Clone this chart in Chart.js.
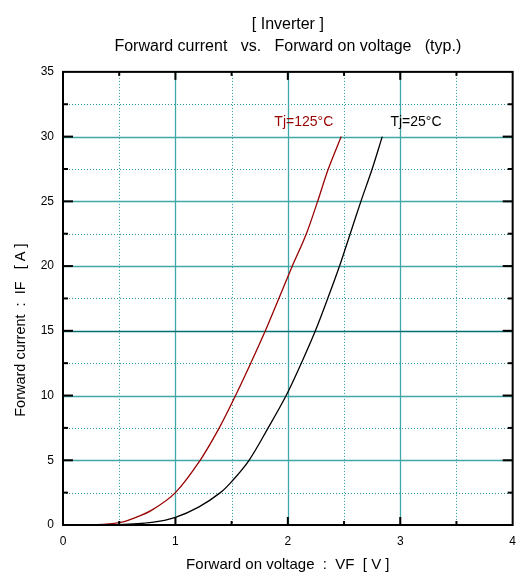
<!DOCTYPE html>
<html>
<head>
<meta charset="utf-8">
<script src="https://cdn.jsdelivr.net/npm/chart.js@4/dist/chart.umd.min.js"></script>
<style>
  html, body { margin: 0; padding: 0; background: #fff; }
  #wrap { width: 525px; height: 585px; }
</style>
</head>
<body>
<div id="wrap"><canvas id="ifChart" width="525" height="585"></canvas></div>
<script>
// Forward on voltage (V) / forward current (A)
const vf125 = [0, 0.3, 0.5, 0.62, 0.79, 1.0, 1.22, 1.39, 1.535, 1.67, 1.80, 1.92, 2.04, 2.165, 2.265, 2.36, 2.475];
const if125 = [0, 0.02, 0.18, 0.5, 1.15, 2.5, 5, 7.5, 10, 12.5, 15, 17.5, 20, 22.5, 25, 27.5, 30];
const vf25 = [0, 0.5, 0.79, 1.0, 1.21, 1.40, 1.50, 1.655, 1.825, 1.985, 2.12, 2.245, 2.355, 2.46, 2.555, 2.65, 2.75, 2.84];
const if25 = [0, 0.03, 0.2, 0.59, 1.4, 2.5, 3.35, 5, 7.5, 10, 12.5, 15, 17.5, 20, 22.5, 25, 27.5, 30];

const xTicks = [0, 1, 2, 3, 4];
const yTicks = [0, 5, 10, 15, 20, 25, 30, 35];
const curveLabels = ["Tj=125°C", "Tj=25°C"];
const yTitle = "Forward current  :  IF   [ A ]";

const toPoints = (xs, ys) => xs.map((x, i) => ({ x: x, y: ys[i] }));

const font = "Liberation Sans, Arial, sans-serif";

// grid, frame with inward ticks, curve labels and the y title
const framePlugin = {
  id: "frame",
  beforeDatasetsDraw(chart) {
    const { ctx, chartArea: a, scales: { x, y } } = chart;
    ctx.save();
    // minor dotted grid
    ctx.setLineDash([1, 2]);
    ctx.lineWidth = 1;
    ctx.strokeStyle = "#2a9898";
    for (let v = 0.5; v < 4; v += 1) {
      const px = Math.round(x.getPixelForValue(v)) + 0.5;
      ctx.beginPath(); ctx.moveTo(px, a.top); ctx.lineTo(px, a.bottom); ctx.stroke();
    }
    for (let v = 2.5; v < 35; v += 5) {
      const py = Math.round(y.getPixelForValue(v)) + 0.5;
      ctx.beginPath(); ctx.moveTo(a.left, py); ctx.lineTo(a.right, py); ctx.stroke();
    }
    // major solid grid
    ctx.setLineDash([]);
    ctx.lineWidth = 1.3;
    for (let v = 1; v < 4; v++) {
      const px = Math.round(x.getPixelForValue(v)) + 0.5;
      ctx.strokeStyle = "#40a8a8";
      ctx.beginPath(); ctx.moveTo(px, a.top); ctx.lineTo(px, a.bottom); ctx.stroke();
    }
    for (let v = 5; v < 35; v += 5) {
      const py = Math.round(y.getPixelForValue(v)) + 0.5;
      ctx.strokeStyle = v === 15 ? "#007070" : "#40a8a8";
      ctx.beginPath(); ctx.moveTo(a.left, py); ctx.lineTo(a.right, py); ctx.stroke();
    }
    ctx.restore();
  },
  afterDatasetsDraw(chart) {
    const { ctx, chartArea: a, scales: { x, y } } = chart;
    ctx.save();
    ctx.strokeStyle = "#000";
    ctx.lineWidth = 2;
    ctx.strokeRect(a.left, a.top, a.right - a.left, a.bottom - a.top);
    for (let v = 0.5; v < 4; v += 0.5) {
      const px = x.getPixelForValue(v);
      const len = Number.isInteger(v) ? 8 : 4;
      ctx.beginPath(); ctx.moveTo(px, a.bottom); ctx.lineTo(px, a.bottom - len); ctx.stroke();
      ctx.beginPath(); ctx.moveTo(px, a.top); ctx.lineTo(px, a.top + len); ctx.stroke();
    }
    for (let v = 2.5; v < 35; v += 2.5) {
      const py = y.getPixelForValue(v);
      const len = v % 5 === 0 ? 10 : 5;
      ctx.beginPath(); ctx.moveTo(a.left, py); ctx.lineTo(a.left + len, py); ctx.stroke();
      ctx.beginPath(); ctx.moveTo(a.right, py); ctx.lineTo(a.right - len, py); ctx.stroke();
    }
    // curve labels
    ctx.font = "14px " + font;
    ctx.textAlign = "center";
    ctx.textBaseline = "middle";
    ctx.fillStyle = "#990000";
    ctx.fillText(curveLabels[0], x.getPixelForValue(2.142), y.getPixelForValue(31.15));
    ctx.fillStyle = "#000";
    ctx.fillText(curveLabels[1], x.getPixelForValue(3.14), y.getPixelForValue(31.15));
    // y axis title, sits a little below the middle of the axis
    ctx.font = "14.5px " + font;
    ctx.translate(21, y.getPixelForValue(15.05));
    ctx.rotate(-Math.PI / 2);
    ctx.fillText(yTitle, 0, 0);
    ctx.restore();
  }
};

const ctx = document.getElementById("ifChart").getContext("2d");
new Chart(ctx, {
  type: "scatter",
  data: {
    datasets: [
      {
        label: curveLabels[0],
        data: toPoints(vf125, if125),
        showLine: true,
        borderColor: "#990000",
        borderWidth: 1.3,
        pointRadius: 0,
        tension: 0.35
      },
      {
        label: curveLabels[1],
        data: toPoints(vf25, if25),
        showLine: true,
        borderColor: "#000000",
        borderWidth: 1.3,
        pointRadius: 0,
        tension: 0.35
      }
    ]
  },
  options: {
    responsive: false,
    animation: false,
    layout: { padding: { top: 0, right: 10, left: 0, bottom: 0 } },
    scales: {
      x: {
        type: "linear",
        min: 0,
        max: 4,
        afterFit: (s) => { s.height = 60; },
        afterBuildTicks: (s) => { s.ticks = xTicks.map(v => ({ value: v })); },
        grid: { display: false, drawTicks: false },
        border: { display: false },
        ticks: { color: "#000", padding: 9, font: { family: font, size: 12 } },
        title: {
          display: true,
          text: "Forward on voltage  :  VF  [ V ]",
          color: "#000",
          font: { family: font, size: 15 },
          padding: { top: 0, bottom: 11 }
        }
      },
      y: {
        type: "linear",
        min: 0,
        max: 35,
        afterFit: (s) => { s.width = 63; },
        afterBuildTicks: (s) => { s.ticks = yTicks.map(v => ({ value: v })); },
        grid: { display: false, drawTicks: false },
        border: { display: false },
        ticks: { color: "#000", padding: 9, font: { family: font, size: 12 } }
      }
    },
    plugins: {
      legend: { display: false },
      tooltip: { enabled: false },
      title: {
        display: true,
        fullSize: false,
        text: ["[ Inverter ]", "Forward current   vs.   Forward on voltage   (typ.)"],
        color: "#000",
        font: { family: font, size: 16, weight: "normal", lineHeight: 1.34 },
        padding: { top: 14, bottom: 15 }
      }
    }
  },
  plugins: [framePlugin]
});
</script>
</body>
</html>
